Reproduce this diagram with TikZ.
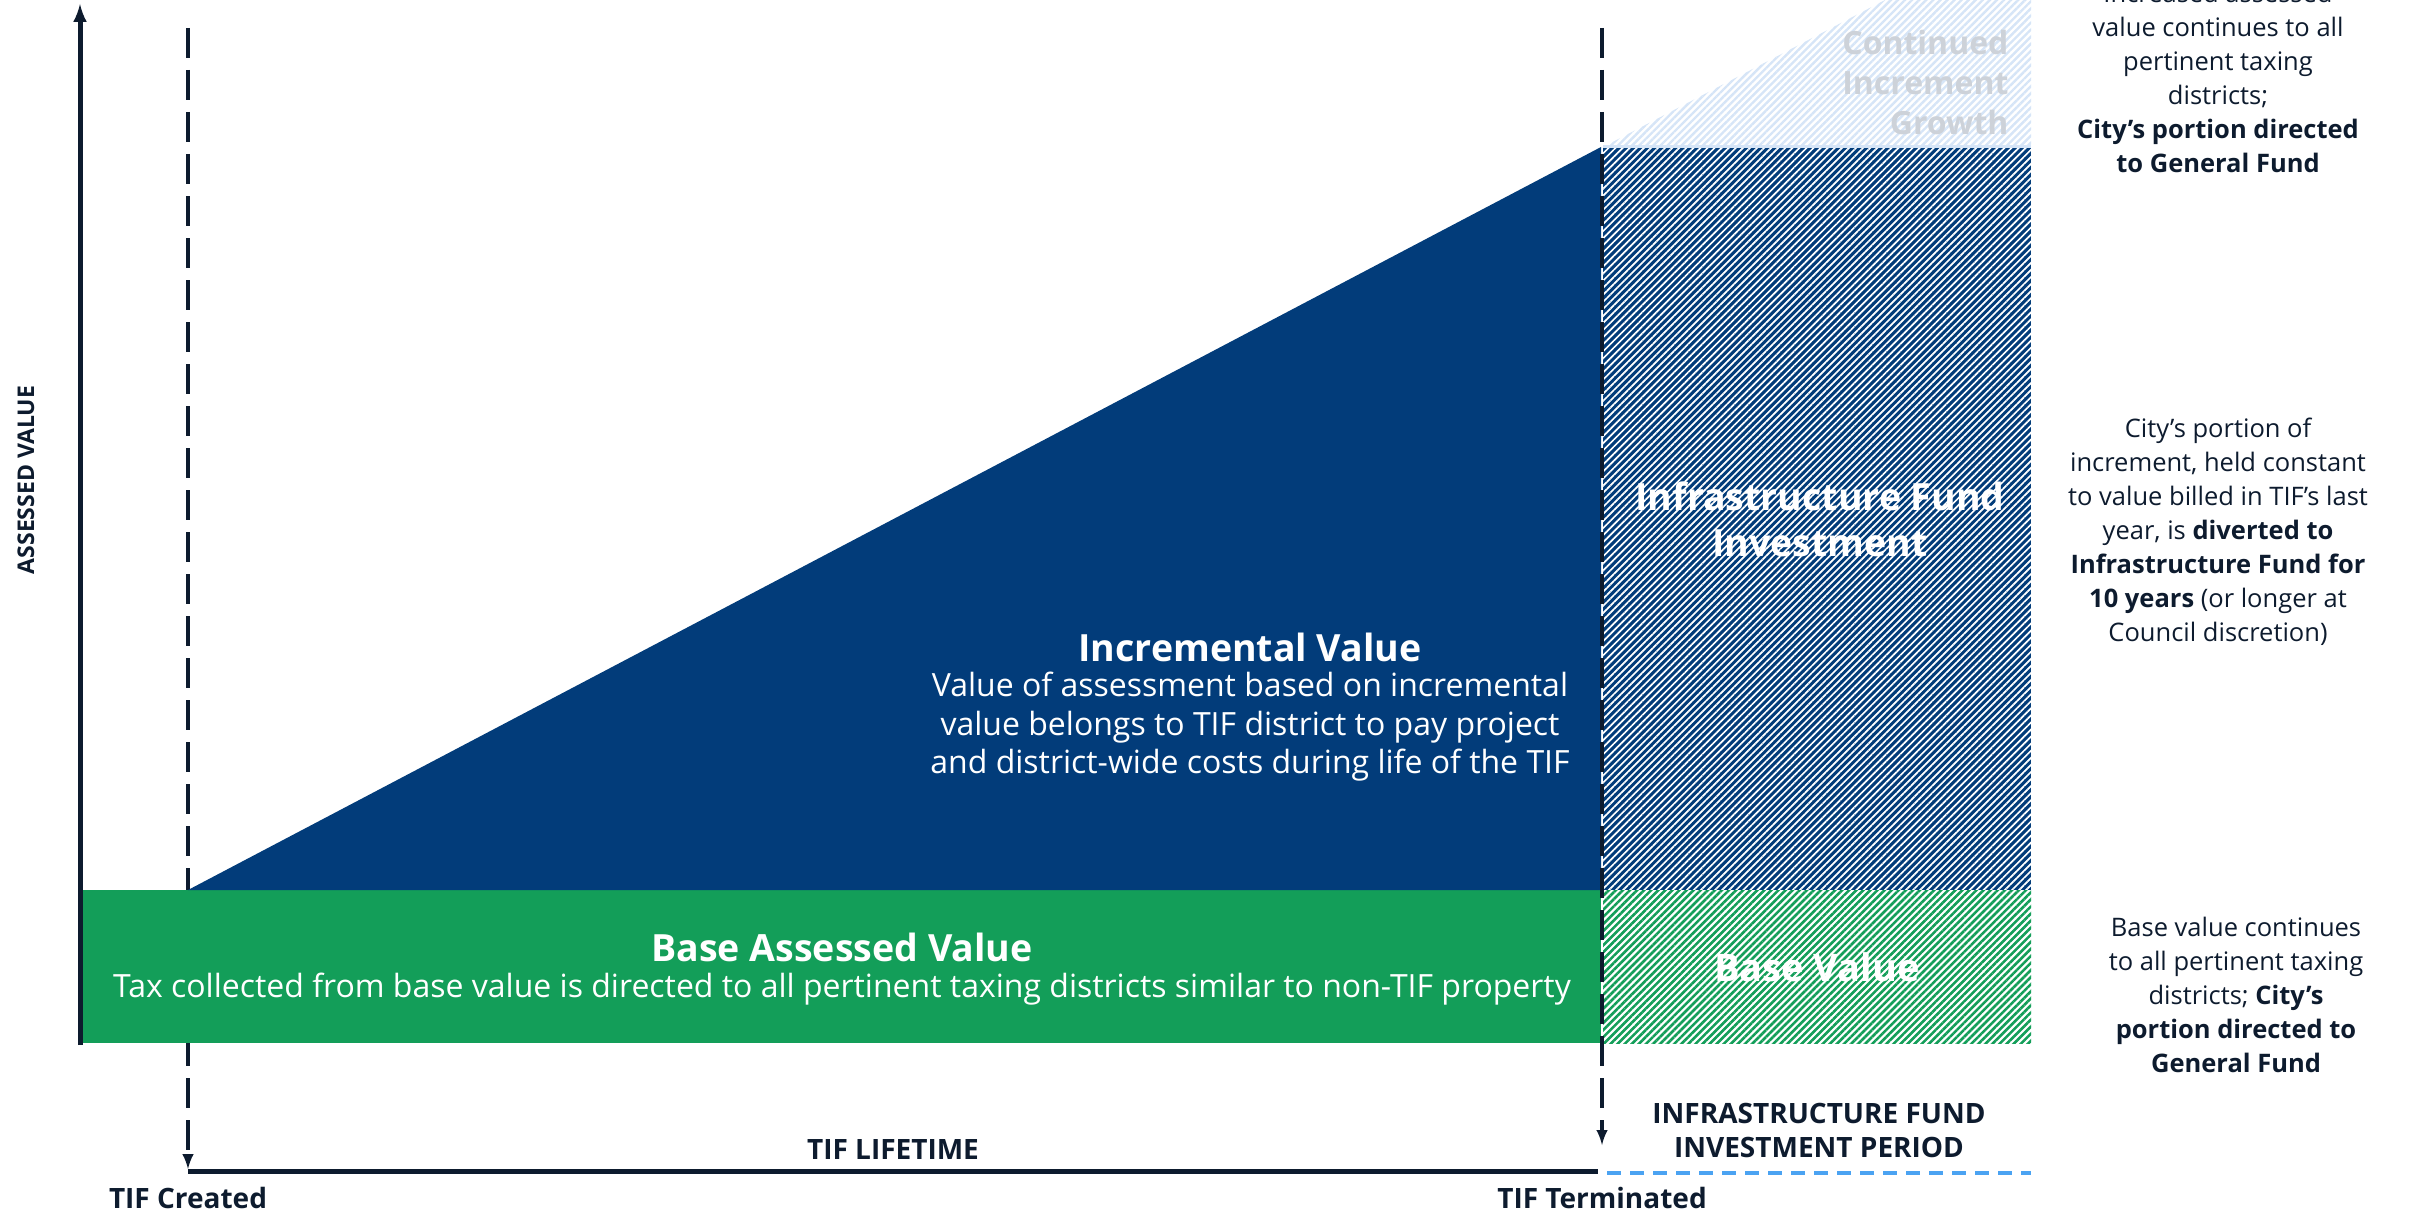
\documentclass[tikz,border=0pt]{standalone}
\usepackage{fontspec}
\setmainfont{Open Sans}
\usetikzlibrary{arrows,patterns.meta}
\definecolor{navy}{HTML}{0D1B2E}
\definecolor{incblue}{HTML}{023C7A}
\definecolor{basegreen}{HTML}{139E59}
\definecolor{paleblue}{HTML}{D6E5F7}
\definecolor{dashblue}{HTML}{4BA3F2}
\definecolor{ghost}{HTML}{CDD2D9}

\begin{document}
\begin{tikzpicture}[x=1pt,y=-1pt,>=latex,
  note/.style={text=navy,align=center,font=\fontsize{25.5}{34}\selectfont},
  axistext/.style={text=navy,align=center,font=\fontsize{28}{34}\selectfont\bfseries},
  ontext/.style={text=white,align=center},
  marker/.style={navy,line width=4pt,dash pattern=on 30pt off 12pt},
  hatch/.style={pattern={Lines[angle=45,distance=5pt,line width=1.7pt]}}]
\useasboundingbox (0,0) rectangle (2412,1212);

\coordinate (origin) at (80,1045);
\coordinate (top) at (80,4);
\coordinate (created) at (188,28);
\coordinate (createdend) at (188,1169);
\coordinate (terminated) at (1602,28);
\coordinate (terminatedend) at (1602,1145);
\coordinate (lifestart) at (188,1171);
\coordinate (lifeend) at (1598,1171);
\coordinate (periodstart) at (1607,1173);
\coordinate (periodend) at (2031,1173);

\draw[->,marker] (created) to (createdend);

\fill[basegreen] (80,890) rectangle (1601,1043);
\fill[incblue] (188,890) -- (1601,147) -- (1601,890) -- cycle;
\fill[incblue] (1603,147) rectangle (2031,890);
\fill[hatch,pattern color=white] (1603,147) rectangle (2031,890);
\fill[pattern={Lines[angle=45,distance=5pt,line width=2.6pt]},pattern color=basegreen] (1603,890) rectangle (2031,1043);
\fill[pattern={Lines[angle=45,distance=5pt,line width=2.4pt]},pattern color=paleblue] (1603,147) -- (1885,0) -- (2031,0) -- (2031,147) -- cycle;
\draw[paleblue,line width=3pt] (1603,147) -- (2031,147);

\draw[->,navy,line width=5pt] (origin) to (top);
\draw[->,marker] (terminated) to (terminatedend);
\draw[navy,line width=5pt] (lifestart) to node [above=6pt,axistext] {TIF LIFETIME} (lifeend);
\draw[dashblue,line width=4pt,dash pattern=on 14pt off 9pt] (periodstart) to node [above=10pt,axistext] {INFRASTRUCTURE FUND\\INVESTMENT PERIOD} (periodend);

\node[axistext,rotate=90,font=\fontsize{23}{34}\selectfont\bfseries] (axislabel) at (26,480) {ASSESSED VALUE};
\node[axistext] (createdlabel) at (188,1198) {TIF Created};
\node[axistext] (terminatedlabel) at (1602,1198) {TIF Terminated};

\node[ontext,font=\fontsize{37.5}{44}\selectfont\bfseries] (basetitle) at (842,947) {Base Assessed Value};
\node[ontext,font=\fontsize{32}{38.5}\selectfont] (basebody) at (842,989) {Tax collected from base value is directed to all pertinent taxing districts similar to non-TIF property};
\node[ontext,font=\fontsize{37.5}{44}\selectfont\bfseries] (inctitle) at (1250,647) {Incremental Value};
\node[ontext,font=\fontsize{32}{38.5}\selectfont] (incbody) at (1250,727) {Value of assessment based on incremental\\value belongs to TIF district to pay project\\and district-wide costs during life of the TIF};
\node[ontext,font=\fontsize{37.5}{46}\selectfont\bfseries] (fundlabel) at (1820,519) {Infrastructure Fund\\Investment};
\node[ontext,font=\fontsize{38}{44}\selectfont\bfseries] (baselabel) at (1817,967) {Base Value};
\node[ontext,text=ghost,align=right,anchor=east,font=\fontsize{32}{40}\selectfont\bfseries] (growthlabel) at (2012,83) {Continued\\Increment\\Growth};

\node[note] (growthnote) at (2218,78) {Increased assessed\\value continues to all\\pertinent taxing\\districts;\\\textbf{City’s portion directed}\\\textbf{to General Fund}};
\node[note] (fundnote) at (2218,532) {City’s portion of\\increment, held constant\\to value billed in TIF’s last\\year, is \textbf{diverted to}\\\textbf{Infrastructure Fund for}\\\textbf{10 years} (or longer at\\Council discretion)};
\node[note] (basenote) at (2236,995) {Base value continues\\to all pertinent taxing\\districts; \textbf{City’s}\\\textbf{portion directed to}\\\textbf{General Fund}};

\end{tikzpicture}
\end{document}
